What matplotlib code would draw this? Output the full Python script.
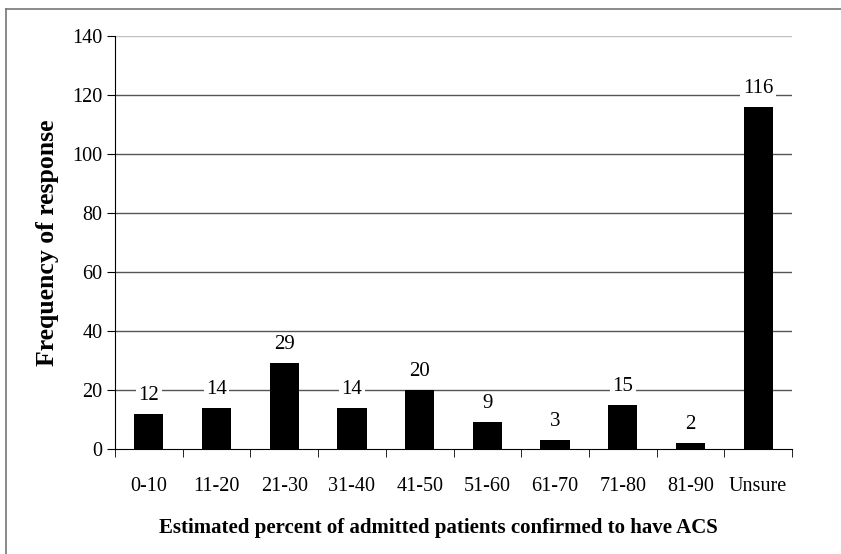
import matplotlib
matplotlib.use("Agg")
import matplotlib.pyplot as plt
from matplotlib.lines import Line2D

categories = ["0-10", "11-20", "21-30", "31-40", "41-50", "51-60", "61-70", "71-80", "81-90", "Unsure"]
values = [12, 14, 29, 14, 20, 9, 3, 15, 2, 116]
yticks = [0, 20, 40, 60, 80, 100, 120, 140]

plt.rcParams['font.family'] = ['Liberation Serif', 'DejaVu Serif']

W, H = 841, 554
fig = plt.figure(figsize=(W/100, H/100), dpi=100)
ax = fig.add_axes([115/W, 1 - 449/H, (792-115)/W, (449-36)/H])

x = list(range(len(categories)))
ax.bar(x, values, width=0.43, color='black', zorder=3)
ax.set_xlim(-0.5, len(categories) - 0.5)
ax.set_ylim(0, 140)
ax.set_yticks(yticks)
ax.set_yticklabels([str(t) for t in yticks], fontsize=14.5)
for t in yticks[1:]:
    ax.axhline(t, color='#c0c0c0' if t == 140 else '#555555', lw=1, zorder=1)

ax.set_xticks(x)
ax.set_xticklabels(categories, fontsize=14.5)
ax.tick_params(axis='x', length=0, pad=20)
ax.set_xticks([i - 0.5 for i in range(len(categories) + 1)], minor=True)
ax.tick_params(axis='x', which='minor', length=6, direction='out', color='black')
ax.tick_params(axis='y', length=6, direction='out', pad=3)

for s in ['top', 'right']:
    ax.spines[s].set_visible(False)
ax.spines['left'].set_color('black')
ax.spines['bottom'].set_color('black')

for xi, v in zip(x, values):
    ax.annotate(str(v), (xi, v), xytext=(0, 6.5), textcoords='offset points',
                ha='center', va='bottom', fontsize=15, zorder=4,
                bbox=dict(boxstyle='square,pad=0.12', fc='white', ec='none'))

ax.set_ylabel("Frequency of response", fontsize=18.5, fontweight='bold')
ax.yaxis.set_label_coords(-(115-59)/(792-115), 0.5)
ax.set_xlabel("Estimated percent of admitted patients confirmed to have ACS",
              fontsize=15, fontweight='bold')
ax.xaxis.set_label_coords((438-115)/(792-115), -(518-449)/(449-36))

fig.add_artist(Line2D([6/W, 6/W], [0, 1 - 9/H], transform=fig.transFigure, color='#777777', lw=1.2))
fig.add_artist(Line2D([6/W, 1], [1 - 9/H, 1 - 9/H], transform=fig.transFigure, color='#777777', lw=1.2))

fig.savefig("out.png", dpi=100)
